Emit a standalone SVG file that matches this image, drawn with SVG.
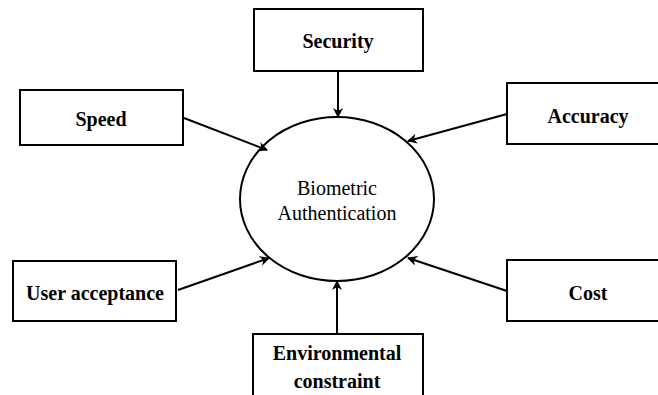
<svg xmlns="http://www.w3.org/2000/svg" width="658" height="395" viewBox="0 0 658 395">
<style>
.box{fill:#fff;stroke:#000;stroke-width:2}
.lbl{font-family:"Liberation Serif","Times New Roman",serif;font-weight:bold;font-size:20px;text-anchor:middle;fill:#000}
.ctr{font-family:"Liberation Serif","Times New Roman",serif;font-size:20px;text-anchor:middle;fill:#000}
.edge{stroke:#000;stroke-width:2;fill:none;marker-end:url(#arr)}
</style>
<defs>
<marker id="arr" viewBox="0 0 10 10" refX="9" refY="5" markerWidth="5" markerHeight="5" orient="auto" markerUnits="strokeWidth">
<path d="M0,0 L10,5 L0,10 L3,5 Z" fill="#000"/>
</marker>
</defs>
<rect width="658" height="395" fill="#fff"/>
<g id="center">
<ellipse cx="337" cy="199" rx="97" ry="82" fill="#fff" stroke="#000" stroke-width="2"/>
<text class="ctr" x="337" y="195">Biometric</text>
<text class="ctr" x="337" y="220">Authentication</text>
</g>
<g id="connectors">
<line class="edge" x1="338" y1="71" x2="338" y2="117"/>
<line class="edge" x1="184" y1="118" x2="267" y2="150"/>
<line class="edge" x1="507" y1="114" x2="408" y2="141"/>
<line class="edge" x1="178" y1="290" x2="269" y2="258"/>
<line class="edge" x1="507" y1="291" x2="408" y2="258"/>
<line class="edge" x1="337" y1="334" x2="337" y2="281"/>
</g>
<g id="security">
<rect class="box" x="254" y="9" width="169" height="62"/>
<text class="lbl" x="338" y="48">Security</text>
</g>
<g id="speed">
<rect class="box" x="20" y="90" width="163" height="55"/>
<text class="lbl" x="101" y="126">Speed</text>
</g>
<g id="accuracy">
<rect class="box" x="507" y="83" width="170" height="61"/>
<text class="lbl" x="588" y="123">Accuracy</text>
</g>
<g id="user-acceptance">
<rect class="box" x="13" y="261" width="163" height="60"/>
<text class="lbl" x="95" y="300">User acceptance</text>
</g>
<g id="cost">
<rect class="box" x="507" y="260" width="170" height="61"/>
<text class="lbl" x="588" y="300">Cost</text>
</g>
<g id="environmental-constraint">
<rect class="box" x="253" y="334" width="170" height="80"/>
<text class="lbl" x="337" y="360">Environmental</text>
<text class="lbl" x="337" y="388">constraint</text>
</g>
</svg>
